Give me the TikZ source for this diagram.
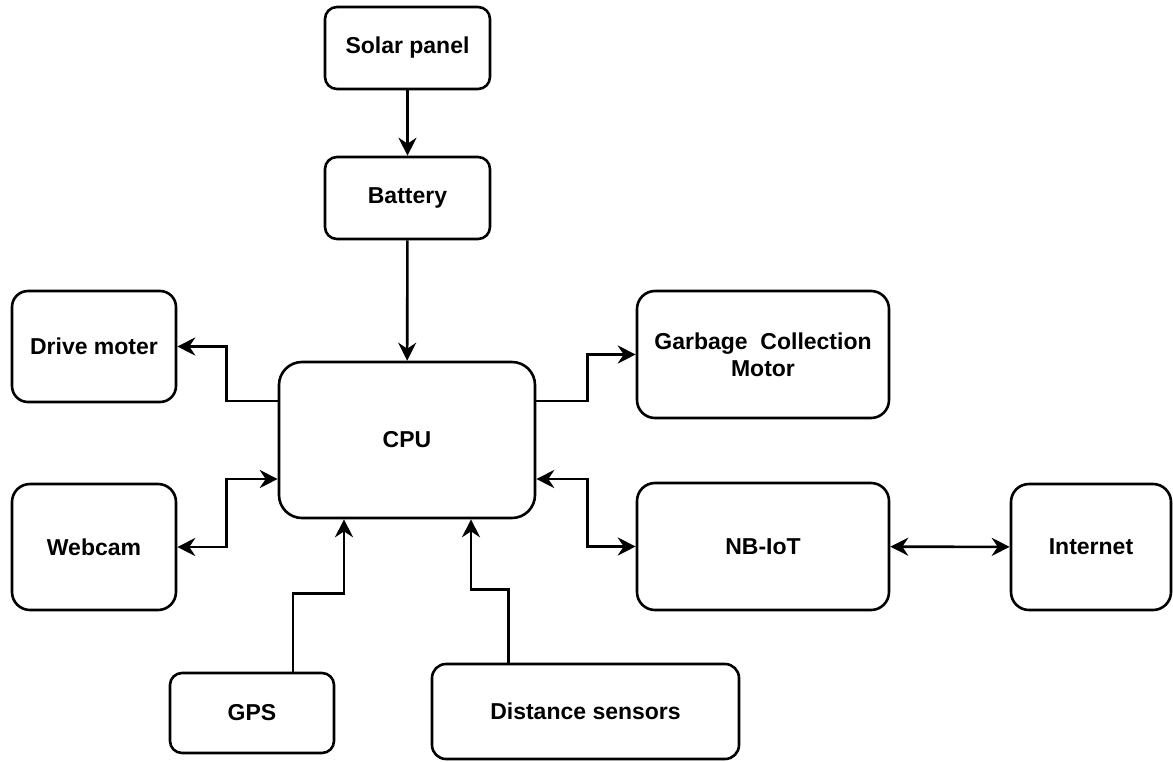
\documentclass[tikz,border=0pt]{standalone}
\usepackage{fontspec}
\setmainfont{Liberation Sans}
\usetikzlibrary{arrows.meta}

\begin{document}
\begin{tikzpicture}[x=1pt, y=-1pt, line width=2.6pt,
    main/.style = {draw, rounded corners=#1, inner sep=0pt, align=center,
                   font=\fontsize{23}{27}\selectfont\bfseries},
    main/.default = 18pt,
    arr/.style = {-{Stealth[length=18pt, width=18pt, inset=6pt]}},
    biarr/.style = {{Stealth[length=18pt, width=18pt, inset=6pt]}-{Stealth[length=18pt, width=18pt, inset=6pt]}}]
    \useasboundingbox (0,0) rectangle (1173,761);
    \node[main=12pt, minimum width=165pt, minimum height=82pt](solar) at (407.5,48) {Solar panel};
    \node[main=12pt, minimum width=165pt, minimum height=82pt](battery) at (407.5,198) {Battery};
    \node[main=23pt, minimum width=256pt, minimum height=156pt](cpu) at (407,440) {CPU};
    \node[main=16pt, minimum width=164pt, minimum height=111pt](drive) at (94,346.5) {Drive moter};
    \node[main, minimum width=252pt, minimum height=127pt](garbage) at (763,354.5) {Garbage\ \ Collection\\Motor};
    \node[main, minimum width=164pt, minimum height=126pt](webcam) at (94,547) {Webcam};
    \node[main, minimum width=252pt, minimum height=127pt](nbiot) at (763,546.5) {NB-IoT};
    \node[main, minimum width=160pt, minimum height=126pt](internet) at (1091,547) {Internet};
    \node[main=12pt, minimum width=164pt, minimum height=80pt](gps) at (252,713) {GPS};
    \node[main=14pt, minimum width=307pt, minimum height=95pt](dist) at (585.5,711.5) {Distance sensors};

    \draw[arr] (solar) to (battery);
    \draw[arr] (battery) to (cpu);
    \draw[arr] ([yshift=39pt]cpu.west) -- ++(-51,0) |- (drive.east);
    \draw[arr] ([yshift=39pt]cpu.east) -- ++(51,0) |- (garbage.west);
    \draw[biarr] ([yshift=-39pt]cpu.west) -- ++(-51,0) |- (webcam.east);
    \draw[biarr] ([yshift=-39pt]cpu.east) -- ++(51,0) |- (nbiot.west);
    \draw[biarr] (nbiot) to (internet);
    \draw[arr] ([xshift=41pt]gps.north) -- ++(0,-78) -| ([xshift=-63pt]cpu.south);
    \draw[arr] ([xshift=-77pt]dist.north) -- ++(0,-73) -| ([xshift=64pt]cpu.south);
\end{tikzpicture}
\end{document}
